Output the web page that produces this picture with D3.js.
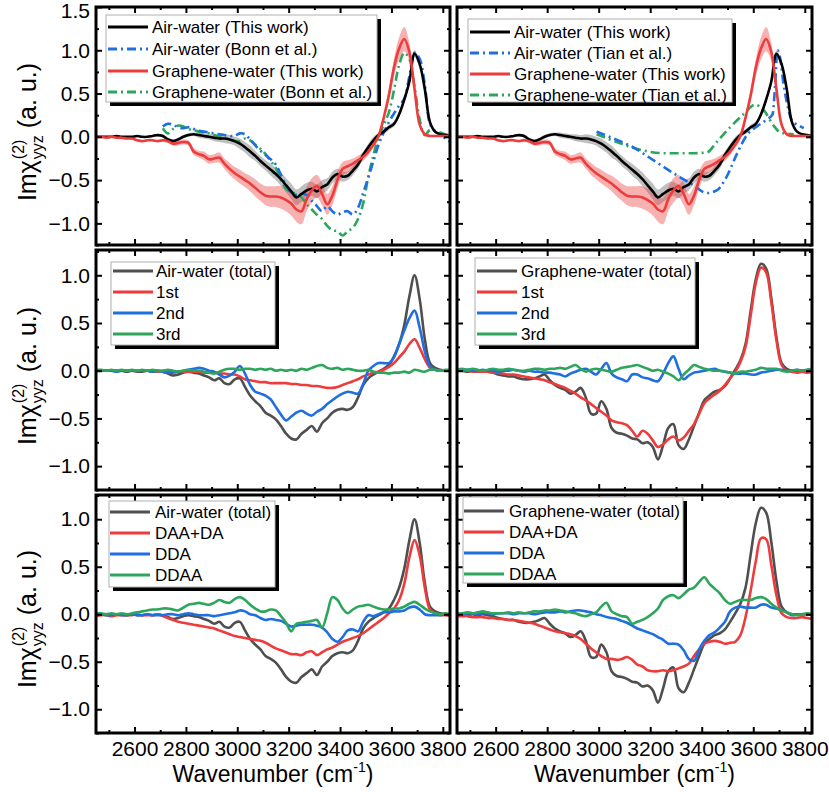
<!DOCTYPE html>
<html>
<head>
<meta charset="utf-8">
<script src="https://cdn.jsdelivr.net/npm/d3@7"></script>
<style>
body { margin: 0; background: #fff; }
svg { font-family: "Liberation Sans", Arial, sans-serif; }
</style>
</head>
<body>
<div id="chart"></div>
<script>
// Wavenumber grid (cm-1) shared by most spectra
const wn = [2450, 2470, 2490, 2510, 2530, 2550, 2570, 2590, 2610, 2630,
            2650, 2670, 2690, 2710, 2730, 2750, 2770, 2790, 2810, 2830,
            2850, 2870, 2890, 2910, 2930, 2950, 2970, 2990, 3010, 3030,
            3050, 3070, 3090, 3110, 3130, 3150, 3170, 3190, 3210, 3230,
            3250, 3270, 3290, 3310, 3330, 3350, 3370, 3390, 3410, 3430,
            3450, 3470, 3490, 3510, 3530, 3550, 3570, 3590, 3610, 3630,
            3650, 3670, 3690, 3710, 3730, 3750, 3770, 3790, 3810, 3830];

// Top panels: this work (mean and error band)
const airThis = [0, 0, 0, 0, 0.01, 0, 0, 0, 0.01, 0,
                 0, 0.01, 0.02, 0.01, -0.03, -0.05, -0.03, 0.0, 0.02, 0.03,
                 0.02, 0.01, 0.0, -0.01, -0.02, -0.02, -0.03, -0.05, -0.08, -0.12,
                 -0.17, -0.22, -0.28, -0.33, -0.38, -0.43, -0.49, -0.56, -0.63, -0.70,
                 -0.66, -0.62, -0.60, -0.63, -0.58, -0.55, -0.47, -0.43, -0.46, -0.45,
                 -0.39, -0.32, -0.21, -0.12, -0.04, 0.02, 0.06, 0.11, 0.15, 0.26,
                 0.43, 0.64, 0.96, 0.84, 0.55, 0.17, 0.06, 0.03, 0.02, 0.01];
const airThisErr = [0.01, 0.01, 0.01, 0.01, 0.01, 0.01, 0.01, 0.01, 0.01, 0.01,
                    0.01, 0.01, 0.01, 0.02, 0.02, 0.02, 0.02, 0.02, 0.02, 0.02,
                    0.03, 0.03, 0.03, 0.04, 0.04, 0.05, 0.05, 0.05, 0.06, 0.06,
                    0.07, 0.06, 0.06, 0.06, 0.07, 0.07, 0.08, 0.08, 0.09, 0.09,
                    0.09, 0.09, 0.08, 0.08, 0.08, 0.07, 0.07, 0.06, 0.06, 0.05,
                    0.05, 0.05, 0.04, 0.04, 0.04, 0.03, 0.03, 0.03, 0.03, 0.03,
                    0.03, 0.04, 0.04, 0.04, 0.03, 0.02, 0.01, 0.01, 0.01, 0.01];
const graphThis = [0, 0, -0.01, 0, -0.01, -0.01, -0.02, -0.02, -0.04, -0.05,
                   -0.04, -0.04, -0.05, -0.04, -0.05, -0.08, -0.07, -0.06, -0.07, -0.17,
                   -0.20, -0.22, -0.26, -0.25, -0.24, -0.31, -0.37, -0.42, -0.46, -0.50,
                   -0.54, -0.59, -0.64, -0.68, -0.69, -0.69, -0.70, -0.73, -0.77, -0.84,
                   -0.86, -0.72, -0.62, -0.57, -0.66, -0.78, -0.68, -0.50, -0.37, -0.34,
                   -0.31, -0.27, -0.23, -0.17, -0.09, 0.01, 0.22, 0.48, 0.80, 1.02,
                   1.13, 0.98, 0.55, 0.14, 0.03, 0.01, 0.01, 0.01, 0.01, 0.01];
const graphThisErr = [0.01, 0.01, 0.01, 0.01, 0.01, 0.01, 0.01, 0.01, 0.01, 0.01,
                      0.01, 0.01, 0.01, 0.02, 0.02, 0.02, 0.03, 0.03, 0.03, 0.04,
                      0.04, 0.05, 0.05, 0.05, 0.06, 0.06, 0.07, 0.07, 0.08, 0.08,
                      0.09, 0.10, 0.10, 0.11, 0.12, 0.12, 0.13, 0.13, 0.14, 0.14,
                      0.15, 0.14, 0.14, 0.13, 0.13, 0.12, 0.11, 0.10, 0.08, 0.07,
                      0.06, 0.05, 0.05, 0.04, 0.04, 0.04, 0.05, 0.07, 0.10, 0.13,
                      0.14, 0.10, 0.06, 0.03, 0.02, 0.01, 0.01, 0.01, 0.01, 0.01];

// Bonn et al. (top left), null where no data
const bonnAir = [null, null, null, null, null, null, null, null, null, null,
                 null, null, null, 0.12, 0.15, 0.14, 0.11, 0.10, 0.11, 0.09,
                 0.07, 0.06, 0.05, 0.04, 0.03, 0.02, 0.01, 0.01, 0.04, 0.03,
                 -0.03, -0.10, -0.16, -0.21, -0.26, -0.32, -0.44, -0.56, -0.64, -0.67,
                 -0.66, -0.67, -0.74, -0.80, -0.86, -0.80, -0.86, -0.90, -0.87, -0.86,
                 -0.90, -0.82, -0.65, -0.47, -0.28, -0.09, 0.05, 0.17, 0.27, 0.36,
                 0.44, 0.70, 0.97, 0.90, 0.60, 0.15, 0.06, 0.03, -0.02, -0.06];
const bonnGraph = [null, null, null, null, null, null, null, null, null, null,
                   null, null, null, 0.10, 0.04, 0.09, 0.13, 0.12, 0.09, 0.08,
                   0.06, 0.05, 0.04, 0.02, 0.0, -0.02, -0.03, -0.05, -0.05, -0.02,
                   -0.04, -0.09, -0.14, -0.20, -0.28, -0.36, -0.50, -0.60, -0.64, -0.66,
                   -0.70, -0.78, -0.84, -0.90, -0.95, -1.03, -1.08, -1.09, -1.14, -1.09,
                   -1.05, -0.95, -0.77, -0.46, -0.21, 0.0, 0.14, 0.28, 0.54, 0.83,
                   0.97, 0.90, 0.58, 0.20, 0.02, 0.08, 0.07, 0.05, 0.03, 0.02];

// Tian et al. (top right), sparse points
const tianAirX = [2992, 3058, 3133, 3212, 3290, 3368, 3420, 3458, 3497, 3536, 3575, 3614, 3653, 3675, 3685, 3694, 3705, 3718, 3731, 3745, 3760, 3783, 3796];
const tianAir = [0.06, -0.02, -0.12, -0.27, -0.42, -0.56, -0.65, -0.62, -0.46, -0.20, 0.02, 0.12, 0.20, 0.26, 0.60, 1.00, 0.90, 0.60, 0.39, 0.22, 0.16, 0.12, 0.10];
const tianGraphX = [2992, 3070, 3161, 3264, 3355, 3420, 3458, 3510, 3562, 3607, 3640, 3679, 3705, 3757];
const tianGraph = [0.03, -0.06, -0.15, -0.19, -0.19, -0.18, -0.06, 0.11, 0.26, 0.37, 0.31, 0.13, 0.05, 0.03];

// Totals (middle and bottom panels)
const airTotal = [0, 0, 0, 0, 0, 0, -0.01, 0, -0.01, -0.01,
                  0, -0.01, 0, -0.01, -0.03, -0.05, -0.04, -0.02, -0.01, -0.02,
                  -0.03, -0.05, -0.07, -0.10, -0.08, -0.13, -0.14, -0.09, -0.08, -0.17,
                  -0.26, -0.32, -0.37, -0.44, -0.47, -0.51, -0.58, -0.66, -0.71, -0.72,
                  -0.66, -0.62, -0.58, -0.64, -0.55, -0.50, -0.44, -0.41, -0.40, -0.41,
                  -0.38, -0.28, -0.15, -0.08, -0.04, -0.01, 0.02, 0.06, 0.15, 0.28,
                  0.48, 0.78, 1.00, 0.75, 0.33, 0.08, 0.03, 0.01, 0.0, 0.0];
const graphTotal = [0, 0, -0.01, 0, -0.01, 0, -0.01, -0.02, -0.04, -0.05,
                    -0.06, -0.06, -0.08, -0.09, -0.09, -0.08, -0.06, -0.04, -0.10, -0.15,
                    -0.18, -0.20, -0.24, -0.22, -0.18, -0.28, -0.45, -0.45, -0.32, -0.40,
                    -0.60, -0.65, -0.66, -0.68, -0.71, -0.72, -0.76, -0.75, -0.80, -0.93,
                    -0.78, -0.60, -0.56, -0.78, -0.82, -0.72, -0.58, -0.44, -0.31, -0.26,
                    -0.22, -0.20, -0.16, -0.08, 0.01, 0.11, 0.28, 0.63, 0.96, 1.12,
                    1.07, 0.76, 0.35, 0.08, 0.02, 0.0, 0.0, 0.0, 0.0, 0.0];

// Middle left: 1st, 2nd, 3rd shell (air-water)
const airFirst = [0, 0, 0, 0, 0, 0, 0, 0, 0, 0,
                  0, 0, -0.01, 0, -0.01, -0.01, -0.01, -0.01, -0.01, -0.01,
                  -0.01, -0.02, -0.02, -0.02, -0.03, -0.03, -0.04, -0.04, -0.06, -0.09,
                  -0.10, -0.11, -0.12, -0.12, -0.13, -0.13, -0.13, -0.13, -0.14, -0.14,
                  -0.15, -0.15, -0.16, -0.16, -0.17, -0.18, -0.18, -0.17, -0.15, -0.13,
                  -0.11, -0.09, -0.06, -0.04, -0.02, -0.01, 0.01, 0.04, 0.08, 0.14,
                  0.20, 0.28, 0.33, 0.24, 0.12, 0.03, 0.01, 0, 0, 0];
const airSecond = [0, 0, 0, 0, -0.01, 0, 0, 0, 0, 0,
                   0, -0.01, 0, -0.01, -0.02, -0.02, -0.01, 0.0, 0.01, 0.02,
                   0.03, 0.02, 0.0, -0.01, -0.04, -0.07, -0.05, -0.01, 0.05, -0.03,
                   -0.15, -0.22, -0.24, -0.26, -0.30, -0.38, -0.46, -0.52, -0.48, -0.44,
                   -0.42, -0.45, -0.47, -0.43, -0.40, -0.35, -0.31, -0.27, -0.24, -0.22,
                   -0.23, -0.24, -0.14, 0.0, 0.05, 0.08, 0.08, 0.08, 0.14, 0.28,
                   0.42, 0.55, 0.63, 0.45, 0.20, 0.05, 0.01, 0, 0, 0];
const airThird = [0.01, 0.01, 0, 0.01, 0, 0.01, 0, 0.01, 0, 0.01,
                  0, 0.01, 0, 0, 0.01, 0, -0.01, 0, 0.01, 0,
                  0, -0.01, -0.02, -0.03, -0.01, 0.01, 0.02, 0.02, 0.01, 0.02,
                  0.02, 0.01, 0.02, 0.01, 0.02, 0.0, 0.01, 0.0, 0.01, 0.0,
                  0.02, 0.01, 0.03, 0.05, 0.06, 0.03, 0.02, 0.03, 0.01, 0.02,
                  0.01, 0.0, 0.0, 0.01, -0.01, -0.02, -0.02, -0.03, -0.02, -0.02,
                  -0.01, -0.02, 0.01, 0.0, -0.01, 0.01, 0.01, 0.0, 0.01, 0.01];

// Middle right: 1st, 2nd, 3rd shell (graphene-water)
const graphFirst = [0, 0, 0, -0.01, -0.01, -0.01, -0.01, -0.02, -0.02, -0.03,
                    -0.04, -0.04, -0.05, -0.06, -0.07, -0.08, -0.09, -0.10, -0.12, -0.14,
                    -0.16, -0.18, -0.21, -0.24, -0.28, -0.31, -0.35, -0.39, -0.43, -0.47,
                    -0.52, -0.54, -0.55, -0.57, -0.63, -0.69, -0.63, -0.66, -0.73, -0.80,
                    -0.77, -0.72, -0.69, -0.73, -0.70, -0.63, -0.56, -0.45, -0.34, -0.29,
                    -0.25, -0.21, -0.15, -0.08, -0.01, 0.09, 0.25, 0.58, 0.92, 1.08,
                    1.03, 0.72, 0.32, 0.06, 0.0, -0.01, -0.02, -0.01, -0.02, -0.01];
const graphSecond = [0, 0, 0.01, 0, 0, 0.01, 0, 0, -0.01, 0,
                     0, 0.01, 0, -0.01, 0, -0.01, -0.01, -0.02, -0.02, -0.03,
                     -0.04, -0.06, -0.03, -0.01, 0.01, 0.02, -0.01, -0.04, 0.02, 0.08,
                     -0.03, -0.07, -0.09, -0.11, -0.04, -0.04, -0.07, -0.08, -0.10, -0.11,
                     -0.03, 0.08, 0.15, 0.02, -0.09, -0.05, -0.02, -0.01, 0.0, 0.01,
                     0.02, 0.0, -0.01, -0.02, -0.03, -0.03, -0.03, -0.04, -0.04, -0.02,
                     -0.01, 0.0, 0.01, 0.01, 0.0, 0.0, 0.01, 0.0, 0.01, 0.0];
const graphThird = [0.01, 0.02, 0.01, 0.02, 0.01, 0.0, 0.01, 0.02, 0.01, 0.01,
                    0.02, 0.01, 0.0, 0.0, 0.01, 0.02, 0.02, 0.01, 0.02, 0.02,
                    0.03, 0.02, 0.04, 0.06, 0.02, -0.01, 0.01, 0.02, 0.01, 0.0,
                    -0.01, 0.01, 0.03, 0.04, 0.05, 0.06, 0.04, 0.02, 0.0, 0.01,
                    -0.01, -0.03, -0.06, -0.10, -0.04, 0.01, 0.06, 0.04, 0.02, 0.01,
                    0.0, 0.0, -0.01, -0.02, -0.03, -0.01, -0.01, 0.0, 0.01, 0.03,
                    0.02, 0.02, 0.02, 0.0, -0.01, 0.0, 0.01, 0.0, 0.01, 0.02];

// Bottom left: DAA+DA, DDA, DDAA (air-water)
const airDAA = [-0.02, -0.01, -0.01, -0.02, -0.01, -0.01, -0.01, -0.01, 0.0, -0.01,
                -0.01, -0.01, 0.0, -0.02, -0.04, -0.06, -0.08, -0.09, -0.10, -0.11,
                -0.12, -0.13, -0.14, -0.15, -0.17, -0.19, -0.21, -0.23, -0.24, -0.25,
                -0.26, -0.27, -0.28, -0.30, -0.33, -0.36, -0.38, -0.40, -0.42, -0.42,
                -0.43, -0.40, -0.39, -0.43, -0.40, -0.37, -0.35, -0.32, -0.29, -0.27,
                -0.25, -0.23, -0.20, -0.16, -0.12, -0.08, -0.04, 0.01, 0.06, 0.15,
                0.32, 0.60, 0.78, 0.62, 0.28, 0.05, 0.01, -0.01, -0.01, -0.02];
const airDDA = [0.01, 0.0, -0.01, -0.01, 0.0, -0.01, -0.01, 0.0, -0.01, -0.01,
                0.0, -0.01, -0.01, -0.01, 0.0, 0.0, -0.01, 0.0, 0.01, 0.0,
                -0.01, -0.01, -0.01, -0.02, -0.01, 0.0, 0.01, 0.02, 0.04, 0.03,
                0.0, -0.01, -0.04, -0.06, -0.05, -0.06, -0.07, -0.10, -0.13, -0.12,
                -0.11, -0.11, -0.11, -0.12, -0.14, -0.19, -0.26, -0.29, -0.24, -0.17,
                -0.16, -0.18, -0.08, -0.01, -0.02, 0.0, 0.02, 0.02, 0.03, 0.03,
                0.04, 0.07, 0.08, 0.05, 0.0, -0.01, -0.01, -0.01, 0.0, -0.01];
const airDDAA = [0.01, 0.01, 0.0, 0.01, 0.0, 0.01, 0.0, 0.01, 0.02, 0.03,
                 0.04, 0.05, 0.05, 0.06, 0.06, 0.05, 0.04, 0.07, 0.10, 0.11,
                 0.12, 0.11, 0.10, 0.12, 0.15, 0.13, 0.12, 0.16, 0.18, 0.15,
                 0.10, 0.06, 0.03, 0.03, 0.05, 0.04, -0.02, -0.09, -0.18, -0.10,
                 -0.09, -0.08, -0.07, -0.06, -0.14, 0.01, 0.18, 0.15, 0.06, 0.01,
                 0.05, 0.08, 0.09, 0.10, 0.08, 0.06, 0.05, 0.05, 0.06, 0.06,
                 0.08, 0.11, 0.13, 0.10, 0.06, 0.03, 0.01, 0.0, 0.01, 0.0];

// Bottom right: DAA+DA, DDA, DDAA (graphene-water)
const graphDAA = [-0.02, -0.02, -0.02, -0.03, -0.03, -0.03, -0.04, -0.04, -0.05, -0.05,
                  -0.06, -0.06, -0.07, -0.08, -0.09, -0.10, -0.12, -0.14, -0.16, -0.18,
                  -0.19, -0.20, -0.21, -0.23, -0.26, -0.31, -0.36, -0.40, -0.44, -0.47,
                  -0.47, -0.48, -0.47, -0.45, -0.48, -0.53, -0.55, -0.59, -0.60, -0.60,
                  -0.59, -0.60, -0.59, -0.57, -0.55, -0.52, -0.44, -0.37, -0.31, -0.29,
                  -0.28, -0.29, -0.31, -0.30, -0.29, -0.22, -0.03, 0.25, 0.56, 0.80,
                  0.79, 0.52, 0.20, 0.01, -0.03, -0.04, -0.04, -0.03, -0.04, -0.05];
const graphDDA = [0.01, 0.0, 0.01, 0.01, 0.0, 0.01, 0.01, 0.0, 0.01, 0.01,
                  0.01, 0.0, 0.01, 0.01, 0.01, 0.0, 0.01, 0.02, 0.02, 0.02,
                  0.03, 0.02, 0.03, 0.04, 0.04, 0.03, 0.02, 0.0, -0.01, -0.03,
                  -0.04, -0.05, -0.07, -0.09, -0.12, -0.15, -0.17, -0.19, -0.21, -0.24,
                  -0.27, -0.31, -0.31, -0.32, -0.38, -0.47, -0.49, -0.37, -0.28, -0.22,
                  -0.19, -0.14, -0.08, 0.03, 0.07, 0.08, 0.07, 0.07, 0.07, 0.10,
                  0.10, 0.07, 0.06, 0.04, 0.02, -0.01, 0.0, 0.0, 0.0, 0.0];
const graphDDAA = [0.0, 0.01, 0.02, 0.01, 0.02, 0.03, 0.02, 0.01, 0.01, 0.01,
                   0.02, 0.01, 0.02, 0.01, 0.02, 0.03, 0.03, 0.04, 0.04, 0.05,
                   0.04, 0.03, 0.02, 0.01, -0.01, -0.02, 0.0, 0.02, 0.08, 0.12,
                   0.03, 0.0, -0.02, -0.03, -0.10, -0.08, -0.06, -0.03, 0.01, 0.06,
                   0.15, 0.19, 0.20, 0.17, 0.21, 0.26, 0.28, 0.34, 0.39, 0.32,
                   0.27, 0.22, 0.15, 0.11, 0.13, 0.15, 0.15, 0.15, 0.17, 0.18,
                   0.16, 0.11, 0.07, 0.04, 0.02, 0.0, -0.01, 0.0, 0.01, 0.0];

// Tick values
const xMajor = [2600, 2800, 3000, 3200, 3400, 3600, 3800];
const xMinor = [2500, 2700, 2900, 3100, 3300, 3500, 3700];
const yMajorTop = [-1, -0.5, 0, 0.5, 1, 1.5];
const yMajor = [-1, -0.5, 0, 0.5, 1];
const yMinor = [-1.25, -0.75, -0.25, 0.25, 0.75, 1.25];

// Colours
var cBlack = "#000000", cGray = "#4f4f4f", cRed = "#ee3b3b", cBlue = "#1f6fe0", cGreen = "#2da65c";
var dashDot = "9,4,2,4";

var width = 829, height = 792;
var svg = d3.select("#chart").append("svg")
    .attr("width", width)
    .attr("height", height);

var cols = [{x0: 96, x1: 450}, {x0: 457, x1: 812}];
var rows = [{y0: 7, y1: 245, dom: [-1.25, 1.5], ticks: yMajorTop},
            {y0: 250, y1: 490, dom: [-1.25, 1.265], ticks: yMajor},
            {y0: 495, y1: 733, dom: [-1.25, 1.255], ticks: yMajor}];

function pairs(xs, ys) {
    return xs.map(function(x, i) { return {x: x, y: ys[i]}; });
}

// Panel contents
var panels = [
    {r: 0, c: 0,
     bands: [{y: airThis, e: airThisErr, fill: "#8c8c8c", op: 0.55},
             {y: graphThis, e: graphThisErr, fill: cRed, op: 0.4}],
     lines: [{x: wn, y: bonnGraph, color: cGreen, dash: dashDot},
             {x: wn, y: bonnAir, color: cBlue, dash: dashDot},
             {x: wn, y: airThis, color: cBlack},
             {x: wn, y: graphThis, color: cRed}],
     legend: {x: 106, y: 15, w: 271, h: 87, lx: 108, tx: 152, rows: [27, 49, 71, 92],
              items: [["Air-water (This work)", cBlack, null],
                      ["Air-water (Bonn et al.)", cBlue, dashDot],
                      ["Graphene-water (This work)", cRed, null],
                      ["Graphene-water (Bonn et al.)", cGreen, dashDot]]}},
    {r: 0, c: 1,
     bands: [{y: airThis, e: airThisErr, fill: "#8c8c8c", op: 0.55},
             {y: graphThis, e: graphThisErr, fill: cRed, op: 0.4}],
     lines: [{x: tianGraphX, y: tianGraph, color: cGreen, dash: dashDot, smooth: true},
             {x: tianAirX, y: tianAir, color: cBlue, dash: dashDot, smooth: true},
             {x: wn, y: airThis, color: cBlack},
             {x: wn, y: graphThis, color: cRed}],
     legend: {x: 468, y: 19, w: 264, h: 83, lx: 470, tx: 514, rows: [32, 53, 74, 95],
              items: [["Air-water (This work)", cBlack, null],
                      ["Air-water (Tian et al.)", cBlue, dashDot],
                      ["Graphene-water (This work)", cRed, null],
                      ["Graphene-water (Tian et al.)", cGreen, dashDot]]}},
    {r: 1, c: 0, bands: [],
     lines: [{x: wn, y: airTotal, color: cGray},
             {x: wn, y: airFirst, color: cRed},
             {x: wn, y: airSecond, color: cBlue},
             {x: wn, y: airThird, color: cGreen}],
     legend: {x: 111, y: 262, w: 164, h: 83, lx: 113, tx: 156, rows: [271, 292, 313, 334],
              items: [["Air-water (total)", cGray, null], ["1st", cRed, null],
                      ["2nd", cBlue, null], ["3rd", cGreen, null]]}},
    {r: 1, c: 1, bands: [],
     lines: [{x: wn, y: graphTotal, color: cGray},
             {x: wn, y: graphFirst, color: cRed},
             {x: wn, y: graphSecond, color: cBlue},
             {x: wn, y: graphThird, color: cGreen}],
     legend: {x: 475, y: 258, w: 220, h: 87, lx: 477, tx: 521, rows: [271, 292, 313, 334],
              items: [["Graphene-water (total)", cGray, null], ["1st", cRed, null],
                      ["2nd", cBlue, null], ["3rd", cGreen, null]]}},
    {r: 2, c: 0, bands: [],
     lines: [{x: wn, y: airTotal, color: cGray},
             {x: wn, y: airDAA, color: cRed},
             {x: wn, y: airDDA, color: cBlue},
             {x: wn, y: airDDAA, color: cGreen}],
     legend: {x: 109, y: 501, w: 166, h: 86, lx: 110, tx: 155, rows: [512, 533, 554, 575],
              items: [["Air-water (total)", cGray, null], ["DAA+DA", cRed, null],
                      ["DDA", cBlue, null], ["DDAA", cGreen, null]]}},
    {r: 2, c: 1, bands: [],
     lines: [{x: wn, y: graphTotal, color: cGray},
             {x: wn, y: graphDAA, color: cRed},
             {x: wn, y: graphDDA, color: cBlue},
             {x: wn, y: graphDDAA, color: cGreen}],
     legend: {x: 463, y: 497, w: 220, h: 86, lx: 464, tx: 509, rows: [511, 532, 553, 574],
              items: [["Graphene-water (total)", cGray, null], ["DAA+DA", cRed, null],
                      ["DDA", cBlue, null], ["DDAA", cGreen, null]]}}
];

var defs = svg.append("defs");

panels.forEach(function(p, k) {
    var col = cols[p.c], row = rows[p.r];
    var x = d3.scaleLinear().domain([2450, 3828]).range([col.x0, col.x1]);
    var y = d3.scaleLinear().domain(row.dom).range([row.y1, row.y0]);

    defs.append("clipPath").attr("id", "clip" + k)
        .append("rect")
        .attr("x", col.x0).attr("y", row.y0)
        .attr("width", col.x1 - col.x0).attr("height", row.y1 - row.y0);

    var plot = svg.append("g").attr("clip-path", "url(#clip" + k + ")");

    // error bands
    p.bands.forEach(function(b) {
        var area = d3.area()
            .x(function(d) { return x(d.x); })
            .y0(function(d) { return y(d.y - d.e); })
            .y1(function(d) { return y(d.y + d.e); })
            .curve(d3.curveCatmullRom.alpha(0.5));
        plot.append("path")
            .datum(wn.map(function(w, i) { return {x: w, y: b.y[i], e: b.e[i]}; }))
            .attr("d", area)
            .attr("fill", b.fill)
            .attr("opacity", b.op);
    });

    // spectra
    p.lines.forEach(function(s) {
        var line = d3.line()
            .defined(function(d) { return d.y !== null; })
            .x(function(d) { return x(d.x); })
            .y(function(d) { return y(d.y); })
            .curve(s.smooth ? d3.curveMonotoneX : d3.curveCatmullRom.alpha(0.5));
        plot.append("path")
            .datum(pairs(s.x, s.y))
            .attr("d", line)
            .attr("fill", "none")
            .attr("stroke", s.color)
            .attr("stroke-width", 2.6)
            .attr("stroke-dasharray", s.dash || null)
            .attr("stroke-linejoin", "round");
    });

    // axes, ticks inward on all four sides
    var fmtX = p.r === 2 ? d3.format("d") : function() { return ""; };
    var fmtY = p.c === 0 ? d3.format(".1f") : function() { return ""; };

    function styleAxis(g) {
        g.select(".domain").remove();
        g.selectAll("line").attr("stroke", "#000").attr("stroke-width", 2);
        g.selectAll("text").attr("font-size", 21).attr("fill", "#000")
            .attr("font-family", "Liberation Sans, Arial, sans-serif");
    }

    svg.append("g").attr("transform", "translate(0," + row.y1 + ")")
        .call(d3.axisBottom(x).tickValues(xMajor).tickSizeInner(-6).tickSizeOuter(0).tickPadding(8).tickFormat(fmtX))
        .call(styleAxis);
    svg.append("g").attr("transform", "translate(0," + row.y1 + ")")
        .call(d3.axisBottom(x).tickValues(xMinor).tickSizeInner(-3).tickSizeOuter(0).tickFormat(""))
        .call(styleAxis);
    svg.append("g").attr("transform", "translate(0," + row.y0 + ")")
        .call(d3.axisTop(x).tickValues(xMajor).tickSizeInner(-6).tickSizeOuter(0).tickFormat(""))
        .call(styleAxis);
    svg.append("g").attr("transform", "translate(0," + row.y0 + ")")
        .call(d3.axisTop(x).tickValues(xMinor).tickSizeInner(-3).tickSizeOuter(0).tickFormat(""))
        .call(styleAxis);

    var yl = svg.append("g").attr("transform", "translate(" + col.x0 + ",0)")
        .call(d3.axisLeft(y).tickValues(row.ticks).tickSizeInner(-6).tickSizeOuter(0).tickPadding(6).tickFormat(fmtY))
        .call(styleAxis);
    // keep the top "1.5" label inside the page
    yl.selectAll(".tick").filter(function(d) { return d === 1.5; })
        .select("text").attr("dy", "0.5em");
    svg.append("g").attr("transform", "translate(" + col.x0 + ",0)")
        .call(d3.axisLeft(y).tickValues(yMinor).tickSizeInner(-3).tickSizeOuter(0).tickFormat(""))
        .call(styleAxis);
    svg.append("g").attr("transform", "translate(" + col.x1 + ",0)")
        .call(d3.axisRight(y).tickValues(row.ticks).tickSizeInner(-6).tickSizeOuter(0).tickFormat(""))
        .call(styleAxis);
    svg.append("g").attr("transform", "translate(" + col.x1 + ",0)")
        .call(d3.axisRight(y).tickValues(yMinor).tickSizeInner(-3).tickSizeOuter(0).tickFormat(""))
        .call(styleAxis);

    // frame
    svg.append("rect")
        .attr("x", col.x0).attr("y", row.y0)
        .attr("width", col.x1 - col.x0).attr("height", row.y1 - row.y0)
        .attr("fill", "none").attr("stroke", "#000").attr("stroke-width", 3);

    // legend with drop shadow
    var L = p.legend;
    svg.append("rect")
        .attr("x", L.x + 4).attr("y", L.y + 4).attr("width", L.w).attr("height", L.h)
        .attr("fill", "#000");
    svg.append("rect")
        .attr("x", L.x).attr("y", L.y).attr("width", L.w).attr("height", L.h)
        .attr("fill", "#fff").attr("stroke", "#b0b0b0").attr("stroke-width", 1);
    L.items.forEach(function(it, i) {
        svg.append("line")
            .attr("x1", L.lx).attr("x2", L.lx + 40)
            .attr("y1", L.rows[i]).attr("y2", L.rows[i])
            .attr("stroke", it[1]).attr("stroke-width", 3)
            .attr("stroke-dasharray", it[2]);
        svg.append("text")
            .attr("x", L.tx).attr("y", L.rows[i])
            .attr("dy", "0.35em")
            .attr("font-size", 17)
            .text(it[0]);
    });
});

// y axis titles
function yTitle(cy) {
    var g = svg.append("g").attr("transform", "translate(36," + cy + ") rotate(-90)");
    var t1 = g.append("text").attr("font-size", 25).text("Imχ");
    var w1 = t1.node().getComputedTextLength();
    var sup = g.append("text").attr("x", w1 + 1).attr("y", -12).attr("font-size", 16).text("(2)");
    var sub = g.append("text").attr("x", w1 + 1).attr("y", 7).attr("font-size", 16).text("yyz");
    var w2 = Math.max(sup.node().getComputedTextLength(), sub.node().getComputedTextLength());
    var t3 = g.append("text").attr("x", w1 + w2 + 8).attr("font-size", 25).text("(a. u.)");
    var total = w1 + w2 + 8 + t3.node().getComputedTextLength();
    g.selectAll("text").attr("x", function() { return (+d3.select(this).attr("x")) - total / 2; });
}
yTitle(132);
yTitle(376);
yTitle(619);

// x axis titles
cols.forEach(function(col) {
    var t = svg.append("text")
        .attr("x", (col.x0 + col.x1) / 2)
        .attr("y", 782)
        .attr("text-anchor", "middle")
        .attr("font-size", 23);
    t.append("tspan").text("Wavenumber (cm");
    t.append("tspan").attr("font-size", 14).attr("dy", -10).text("-1");
    t.append("tspan").attr("dy", 10).text(")");
});
</script>
</body>
</html>
